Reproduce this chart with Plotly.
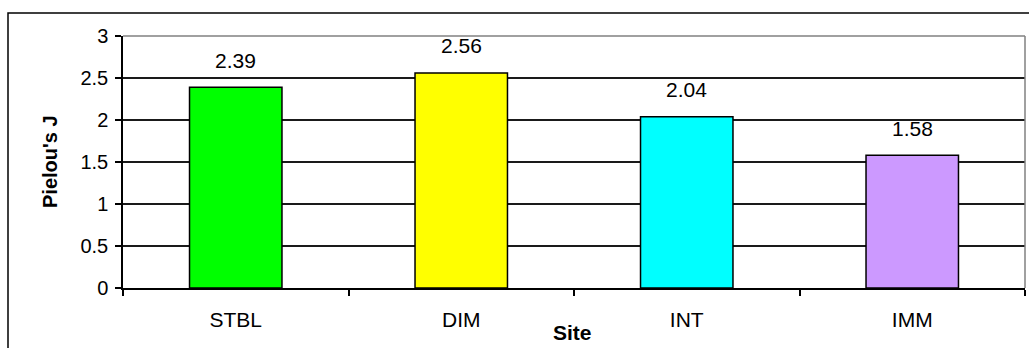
import plotly.graph_objects as go

sites = ["STBL", "DIM", "INT", "IMM"]
pielou_j = [2.39, 2.56, 2.04, 1.58]
bar_colors = ["#00FF00", "#FFFF00", "#00FFFF", "#CC99FF"]
y_ticks = [0, 0.5, 1, 1.5, 2, 2.5, 3]
y_tick_labels = ["0", "0.5", "1", "1.5", "2", "2.5", "3"]

FONT = "Arial, Liberation Sans, sans-serif"
W, H = 1029, 348
L, R, T, B = 123, 4, 36, 60
pw = W - L - R
ph = H - T - B

fig = go.Figure()
fig.add_trace(go.Bar(
    x=sites, y=pielou_j, width=0.41,
    marker=dict(color=bar_colors, line=dict(color="black", width=1.5)),
    hoverinfo="x+y",
))

for s, v in zip(sites, pielou_j):
    fig.add_annotation(x=s, y=v, text=f"{v:.2f}", showarrow=False,
                       xref="x", yref="y", yanchor="middle", yshift=27,
                       font=dict(family=FONT, size=21, color="black"))

# axis titles
fig.add_annotation(x=0.5, y=0, xref="paper", yref="paper", text="<b>Site</b>",
                   showarrow=False, yanchor="middle", yshift=-44, xshift=-2,
                   font=dict(family=FONT, size=21, color="black"))
fig.add_annotation(x=0, y=0.5, xref="paper", yref="paper", text="<b>Pielou's J</b>",
                   showarrow=False, textangle=-90, xanchor="center", xshift=-73,
                   font=dict(family=FONT, size=20, color="black"))

# gray plot-area border (top and right)
fig.add_shape(type="line", xref="paper", yref="paper", x0=0, x1=1, y0=1, y1=1,
              line=dict(color="#808080", width=1.5))
fig.add_shape(type="line", xref="paper", yref="paper", x0=1, x1=1, y0=0, y1=1,
              line=dict(color="#808080", width=1.5))
# outer chart border
fig.add_shape(type="rect", xref="paper", yref="paper",
              x0=(8 - L) / pw, x1=(W + 5 - L) / pw,
              y0=-(H + 5 - (T + ph)) / ph, y1=1 + (T - 13) / ph,
              line=dict(color="black", width=1.5), fillcolor="rgba(0,0,0,0)")

fig.update_layout(
    width=W, height=H,
    margin=dict(l=L, r=R, t=T, b=B, pad=0),
    paper_bgcolor="white", plot_bgcolor="white",
    showlegend=False,
    font=dict(family=FONT, color="black"),
    xaxis=dict(
        type="category", tickson="boundaries", ticks="outside", ticklen=6,
        tickwidth=1.5, tickcolor="black", showline=True, linecolor="black",
        linewidth=1.5, showgrid=False, ticklabelstandoff=12,
        tickfont=dict(family=FONT, size=21, color="black"),
        range=[-0.5, 3.5],
    ),
    yaxis=dict(
        range=[0, 3], tickvals=y_ticks, ticktext=y_tick_labels,
        ticks="outside", ticklen=6, tickwidth=1.5, tickcolor="black",
        showline=True, linecolor="black", linewidth=1.5,
        showgrid=True, gridcolor="#1a1a1a", gridwidth=1.5, zeroline=False,
        ticklabelstandoff=3,
        tickfont=dict(family=FONT, size=20, color="black"),
    ),
)

fig.write_html("out.html")
